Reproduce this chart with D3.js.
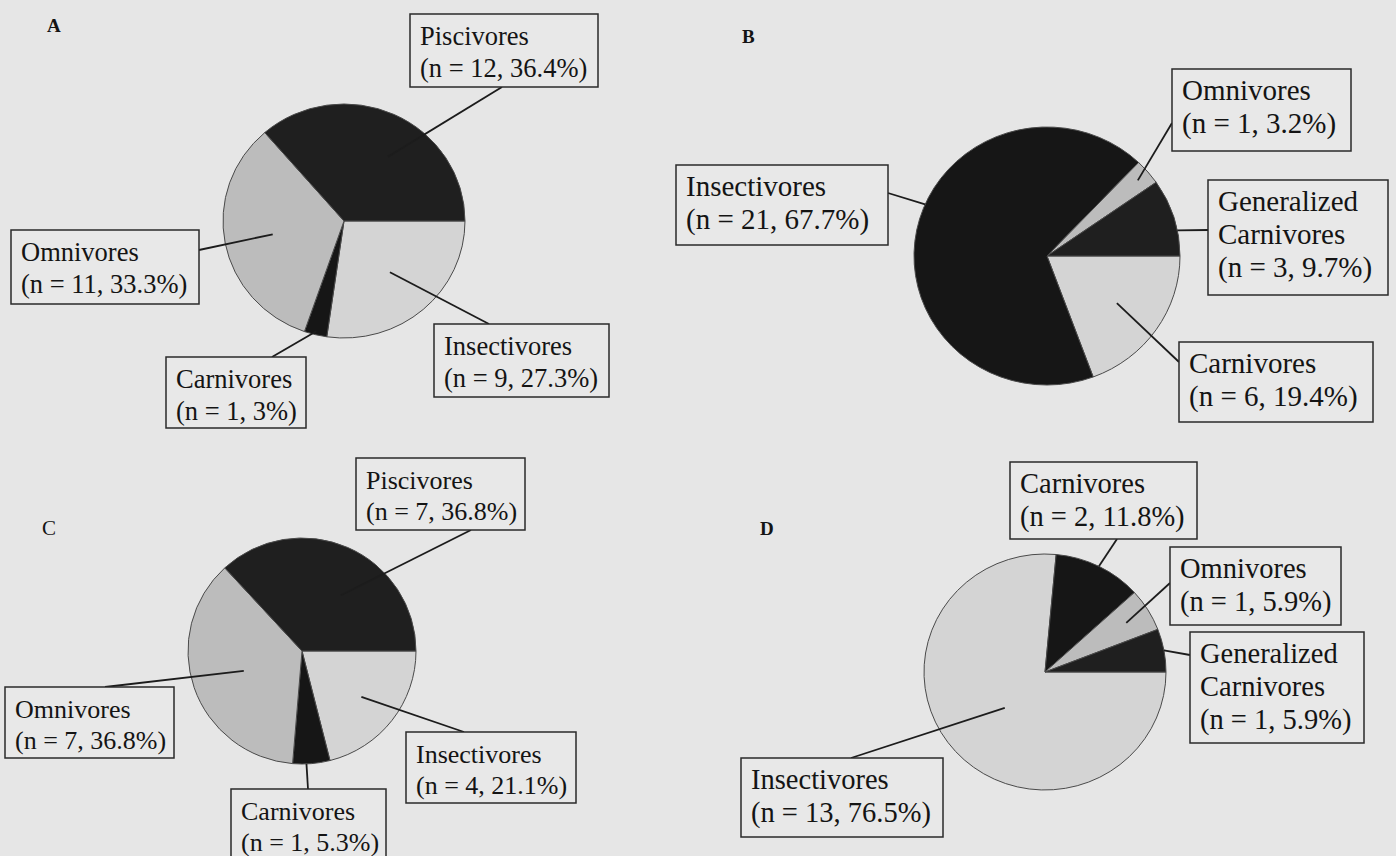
<!DOCTYPE html>
<html>
<head>
<meta charset="utf-8">
<script src="https://cdn.jsdelivr.net/npm/d3@7"></script>
<style>
  body { margin: 0; background: #e6e6e6; }
  svg { display: block; }
  text { font-family: 'Liberation Serif', 'Times New Roman', serif; fill: #141414; }
</style>
</head>
<body>
<svg id="chart" width="1396" height="856"></svg>
<script>

// feeding guilds, listed clockwise from 3 o'clock as in the figure
var panel_a_groups = ['Insectivores', 'Carnivores', 'Omnivores', 'Piscivores'];
var panel_a_counts = [9, 1, 11, 12];
var panel_a_shares = ['27.3%', '3%', '33.3%', '36.4%'];

var panel_b_groups = ['Carnivores', 'Insectivores', 'Omnivores', 'Generalized Carnivores'];
var panel_b_counts = [6, 21, 1, 3];
var panel_b_shares = ['19.4%', '67.7%', '3.2%', '9.7%'];

var panel_c_groups = ['Insectivores', 'Carnivores', 'Omnivores', 'Piscivores'];
var panel_c_counts = [4, 1, 7, 7];
var panel_c_shares = ['21.1%', '5.3%', '36.8%', '36.8%'];

var panel_d_groups = ['Insectivores', 'Carnivores', 'Omnivores', 'Generalized Carnivores'];
var panel_d_counts = [13, 2, 1, 1];
var panel_d_shares = ['76.5%', '11.8%', '5.9%', '5.9%'];

var slice_colors = ['#d4d4d4', '#161616', '#bcbcbc', '#1f1f1f'];

class PieView
{
  constructor(letter, groups, counts, shares, layout)
  {
    this.letter = letter;
    this.groups = groups;
    this.counts = counts;
    this.shares = shares;
    this.layout = layout;

    this.svg = d3.select('#chart').append('g').attr('class', 'panel-' + letter);

    this.pie = d3.pie()
      .sort(null)
      .startAngle(Math.PI / 2)
      .endAngle(Math.PI / 2 + 2 * Math.PI);

    this.arc = d3.arc().innerRadius(0).outerRadius(layout.rx);
  }

  draw()
  {
    var L = this.layout;
    var arcs = this.pie(this.counts);

    this.svg.append('text')
      .attr('x', L.letter_x)
      .attr('y', L.letter_y)
      .attr('font-size', L.letter_size)
      .attr('font-weight', L.letter_weight)
      .text(this.letter);

    this.svg.append('g')
      .attr('transform', 'translate(' + L.cx + ',' + L.cy + ') scale(1,' + (L.ry / L.rx) + ')')
      .selectAll('path')
      .data(arcs)
      .enter()
      .append('path')
      .attr('d', this.arc)
      .attr('fill', (d, i) => slice_colors[i])
      .attr('stroke', '#4a4a4a')
      .attr('stroke-width', 1)
      .attr('vector-effect', 'non-scaling-stroke');

    arcs.forEach((d, i) => this.draw_label(d, i));
  }

  draw_label(d, i)
  {
    var L = this.layout;
    var lab = L.labels[i];
    var a = (d.startAngle + d.endAngle) / 2 + (lab.da || 0) * Math.PI / 180;
    var px = L.cx + Math.sin(a) * L.rx * lab.rf;
    var py = L.cy - Math.cos(a) * L.ry * lab.rf;

    this.svg.append('line')
      .attr('x1', px).attr('y1', py)
      .attr('x2', lab.ax).attr('y2', lab.ay)
      .attr('stroke', '#1c1c1c')
      .attr('stroke-width', 1.8);

    this.svg.append('rect')
      .attr('x', lab.x).attr('y', lab.y)
      .attr('width', lab.w).attr('height', lab.h)
      .attr('fill', '#e8e8e8')
      .attr('stroke', '#2a2a2a')
      .attr('stroke-width', 1.5);

    var lines = this.groups[i].split(' ');
    lines.push('(n = ' + this.counts[i] + ', ' + this.shares[i] + ')');

    var t = this.svg.append('text')
      .attr('font-size', L.font);

    lines.forEach((s, k) => {
      t.append('tspan')
        .attr('x', lab.x + 10)
        .attr('y', lab.y + 31 + k * L.lh)
        .text(s);
    });
  }
}

var view_a = new PieView('A', panel_a_groups, panel_a_counts, panel_a_shares, {
  cx: 344, cy: 221, rx: 121, ry: 117, font: 26.5, lh: 32,
  letter_x: 47, letter_y: 32, letter_size: 19, letter_weight: 'bold',
  labels: [
    {x: 434, y: 324, w: 175, h: 73, ax: 489, ay: 324, rf: 0.58},
    {x: 166, y: 357, w: 140, h: 71, ax: 272, ay: 357, rf: 0.97},
    {x: 11, y: 230, w: 188, h: 74, ax: 199, ay: 250, rf: 0.6},
    {x: 410, y: 14, w: 188, h: 73, ax: 502, ay: 87, rf: 0.66, da: 9}
  ]
});

var view_b = new PieView('B', panel_b_groups, panel_b_counts, panel_b_shares, {
  cx: 1047, cy: 256, rx: 133, ry: 129, font: 29, lh: 33,
  letter_x: 742, letter_y: 43, letter_size: 19, letter_weight: 'bold',
  labels: [
    {x: 1179, y: 342, w: 194, h: 80, ax: 1179, ay: 362, rf: 0.64},
    {x: 676, y: 165, w: 212, h: 80, ax: 888, ay: 193, rf: 1.0, da: 12},
    {x: 1172, y: 69, w: 179, h: 82, ax: 1172, ay: 123, rf: 0.9},
    {x: 1208, y: 180, w: 180, h: 115, ax: 1208, ay: 230, rf: 1.0, da: 6}
  ]
});

var view_c = new PieView('C', panel_c_groups, panel_c_counts, panel_c_shares, {
  cx: 302, cy: 651, rx: 114, ry: 113, font: 26, lh: 31,
  letter_x: 42, letter_y: 535, letter_size: 21, letter_weight: 'normal',
  labels: [
    {x: 406, y: 732, w: 170, h: 71, ax: 464, ay: 732, rf: 0.66},
    {x: 231, y: 789, w: 155, h: 70, ax: 308, ay: 789, rf: 1.0, da: 2.5},
    {x: 5, y: 687, w: 169, h: 71, ax: 105, ay: 687, rf: 0.54},
    {x: 356, y: 458, w: 169, h: 72, ax: 471, ay: 530, rf: 0.6, da: 11}
  ]
});

var view_d = new PieView('D', panel_d_groups, panel_d_counts, panel_d_shares, {
  cx: 1045, cy: 672, rx: 121, ry: 118, font: 28.5, lh: 33,
  letter_x: 760, letter_y: 535, letter_size: 19, letter_weight: 'bold',
  labels: [
    {x: 741, y: 758, w: 202, h: 79, ax: 851, ay: 758, rf: 0.45},
    {x: 1010, y: 462, w: 187, h: 77, ax: 1117, ay: 539, rf: 1.0},
    {x: 1170, y: 547, w: 171, h: 78, ax: 1170, ay: 583, rf: 0.79},
    {x: 1190, y: 632, w: 174, h: 111, ax: 1190, ay: 655, rf: 1.0}
  ]
});

view_a.draw();
view_b.draw();
view_c.draw();
view_d.draw();

</script>
</body>
</html>
